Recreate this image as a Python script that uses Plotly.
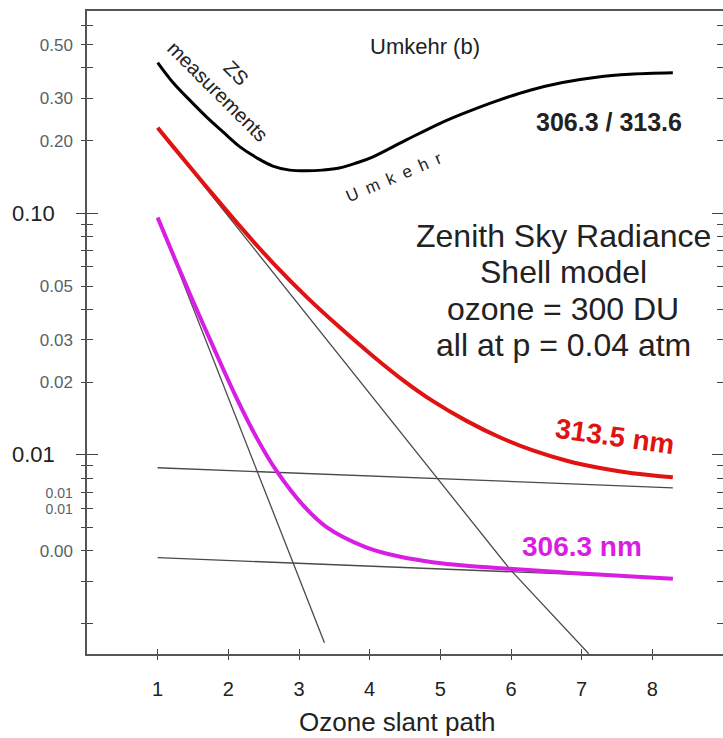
import plotly.graph_objects as go

# Ozone slant path (x) and relative signal (y)
ratio_x = [1.0, 1.21, 1.45, 1.69, 1.92, 2.16, 2.40, 2.63, 2.87, 3.11, 3.33, 3.57,
           3.82, 4.04, 4.52, 4.99, 5.32, 5.80, 6.27, 6.73, 7.21, 7.68, 8.29]
ratio_y = [0.421, 0.350, 0.295, 0.251, 0.218, 0.189, 0.170, 0.157, 0.151, 0.150,
           0.151, 0.154, 0.162, 0.171, 0.2015, 0.2355, 0.2588, 0.2924, 0.3236,
           0.3483, 0.3664, 0.3767, 0.382]

red_x = [1.0, 1.21, 1.69, 2.16, 2.63, 3.11, 3.58, 4.04, 4.47, 4.89, 5.37, 5.84,
         6.31, 6.79, 7.26, 7.72, 8.29]
red_y = [0.226, 0.1903, 0.1289, 0.0887, 0.0624, 0.0450, 0.03364, 0.02573, 0.0204,
         0.01672, 0.01382, 0.01182, 0.01043, 0.00945, 0.00881, 0.00839, 0.00807]

mag_x = [1.0, 1.24, 1.51, 1.82, 2.11, 2.40, 2.68, 3.06, 3.39, 3.95, 4.42, 4.89,
         5.37, 5.98, 6.79, 7.72, 8.29]
mag_y = [0.096, 0.0652, 0.04266, 0.02661, 0.01734, 0.01178, 0.00859, 0.00617,
         0.00502, 0.00414, 0.00379, 0.00359, 0.00347, 0.00337, 0.00325, 0.00313,
         0.00307]

# thin guide lines: initial slopes and asymptotes
steep_red_x = [1.0, 5.98, 7.10]
steep_red_y = [0.226, 0.00337, 0.0015]
steep_mag_x = [1.0, 3.36]
steep_mag_y = [0.096, 0.001666]
flat_red_x = [1.0, 8.29]
flat_red_y = [0.00884, 0.0073]
flat_mag_x = [1.0, 8.29]
flat_mag_y = [0.00375, 0.00308]

x_ticks = [1, 2, 3, 4, 5, 6, 7, 8]
y_ticks = [0.6, 0.5, 0.4, 0.3, 0.2, 0.1, 0.09, 0.08, 0.07, 0.06, 0.05, 0.04, 0.03,
           0.02, 0.01, 0.009, 0.008, 0.007, 0.006, 0.005, 0.004, 0.003, 0.002]
small = '<span style="font-size:14px">0.01</span>'
y_tick_text = ["", "0.50", "", "0.30", "0.20", "", "", "", "", "", "0.05", "", "0.03",
               "0.02", "", "", "", small, small, "", "0.00", "", ""]
y_major = [0.1, 0.01]
y_major_text = ["0.10", "0.01"]

RED = "#e01212"
MAGENTA = "#d91ee3"
GUIDE = "#4a4a4a"
FONT = "Arial, Liberation Sans, sans-serif"

fig = go.Figure()

for gx, gy in [(steep_red_x, steep_red_y), (steep_mag_x, steep_mag_y),
               (flat_red_x, flat_red_y), (flat_mag_x, flat_mag_y)]:
    fig.add_trace(go.Scatter(x=gx, y=gy, mode="lines",
                             line=dict(color=GUIDE, width=1.3), hoverinfo="skip"))

curve = dict(shape="spline", smoothing=1.0)
fig.add_trace(go.Scatter(x=ratio_x, y=ratio_y, mode="lines",
                         line=dict(color="black", width=3, **curve)))
fig.add_trace(go.Scatter(x=red_x, y=red_y, mode="lines",
                         line=dict(color=RED, width=4, **curve)))
fig.add_trace(go.Scatter(x=mag_x, y=mag_y, mode="lines",
                         line=dict(color=MAGENTA, width=4, **curve)))

# invisible anchors so the overlay tick axes are drawn
for xa, ya in [("x2", "y"), ("x", "y2"), ("x", "y3"), ("x", "y4")]:
    fig.add_trace(go.Scatter(x=[1], y=[0.1], mode="markers", xaxis=xa, yaxis=ya,
                             marker=dict(opacity=0), hoverinfo="skip"))

YRANGE = [-2.825, -0.162]
XRANGE = [0, 9]

common_y = dict(type="log", range=YRANGE, showgrid=False, zeroline=False,
                automargin=False, tickcolor="#444", tickwidth=1.3)
common_x = dict(range=XRANGE, showgrid=False, zeroline=False, automargin=False,
                tickcolor="#444", tickwidth=1.3)

fig.update_layout(
    width=723, height=738,
    margin=dict(l=87, r=0, t=11, b=84),
    paper_bgcolor="white", plot_bgcolor="white",
    showlegend=False,
    font=dict(family=FONT, color="#222"),
    xaxis=dict(**common_x, tickmode="array", tickvals=x_ticks, ticks="outside",
               ticklen=4, showline=True, linecolor="#555", linewidth=1.5, mirror=True,
               ticklabelstandoff=12, tickfont=dict(size=20, color="#222")),
    xaxis2=dict(**common_x, overlaying="x", anchor="y", tickmode="array",
                tickvals=x_ticks, ticks="inside", ticklen=5, showticklabels=False,
                showline=False),
    yaxis=dict(**common_y, tickmode="array", tickvals=y_ticks, ticktext=y_tick_text,
               ticks="outside", ticklen=4, showline=True, linecolor="#555",
               linewidth=1.5, ticklabelstandoff=5,
               tickfont=dict(size=17, color="#5a5f66")),
    yaxis2=dict(**common_y, overlaying="y", anchor="x", tickmode="array",
                tickvals=y_ticks, ticks="inside", ticklen=6, showticklabels=False,
                showline=False, mirror="ticks"),
    yaxis3=dict(**common_y, overlaying="y", anchor="x", tickmode="array",
                tickvals=y_major, ticks="outside", ticklen=10, showticklabels=False,
                showline=False),
    yaxis4=dict(**common_y, overlaying="y", anchor="x", tickmode="array",
                tickvals=y_major, ticks="inside", ticklen=11, showticklabels=False,
                showline=False, mirror="ticks"),
)

# larger labels on the decade ticks
for val, txt in zip(y_major, y_major_text):
    fig.add_annotation(xref="paper", yref="y", x=-0.047, y=-1 if val == 0.1 else -2,
                       text=txt, showarrow=False, xanchor="right", yanchor="middle",
                       font=dict(size=22, color="#222"))

# axis title
fig.add_annotation(xref="paper", yref="paper", x=0.488, y=-0.1058,
                   text="Ozone slant path", showarrow=False, xanchor="center",
                   yanchor="middle", font=dict(size=26, color="#222"))


def note(x, y, text, size, color="#222", angle=0, bold=False):
    fig.add_annotation(x=x, y=y, text=f"<b>{text}</b>" if bold else text,
                       showarrow=False, textangle=angle, xanchor="center",
                       yanchor="middle", font=dict(size=size, color=color, family=FONT))


note(4.78, -0.311, "Umkehr (b)", 22)
note(7.38, -0.621, "306.3 / 313.6", 25, bold=True)
note(1.977, -0.4555, "ZS<br>measurements", 20, angle=45)
note(4.34, -0.853, "U\u2002m\u2002k\u2002e\u2002h\u2002r", 17, angle=-23)

for ylog, line in zip([-1.093, -1.244, -1.395, -1.546],
                      ["Zenith Sky Radiance", "Shell model", "ozone = 300 DU",
                       "all at p = 0.04 atm"]):
    note(6.74, ylog, line, 32)

note(7.47, -1.925, "313.5 nm", 28, color=RED, angle=8, bold=True)
note(7.0, -2.381, "306.3 nm", 28, color=MAGENTA, bold=True)

fig.write_html("out.html")
